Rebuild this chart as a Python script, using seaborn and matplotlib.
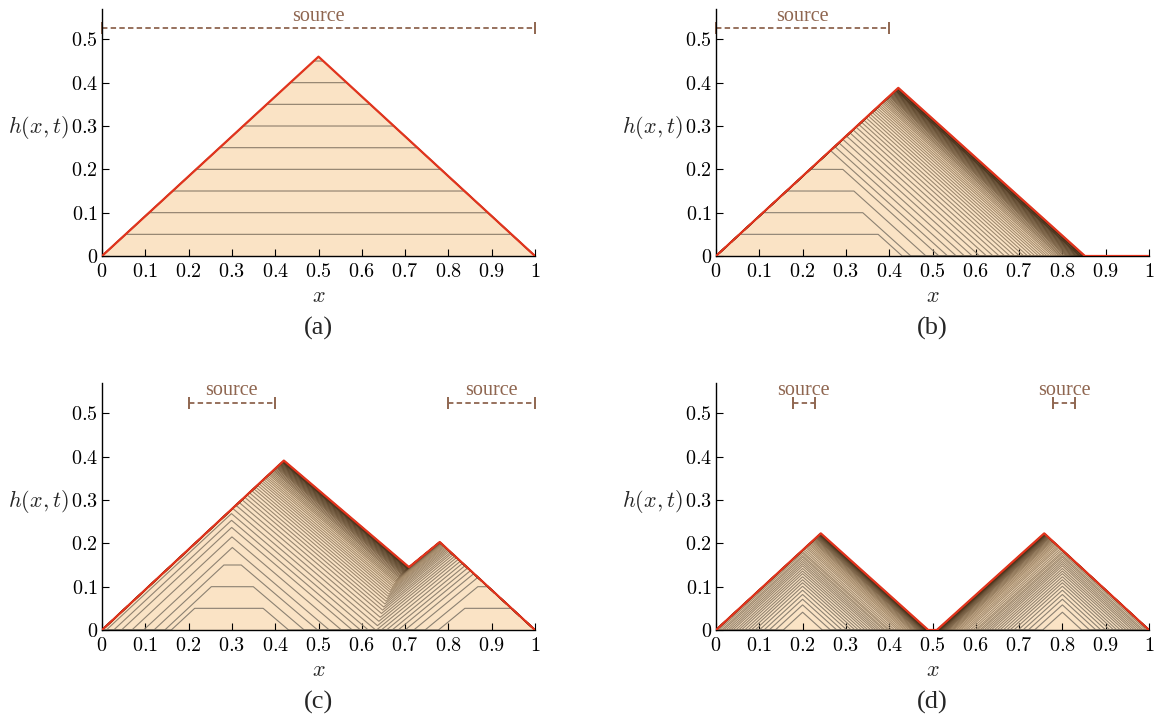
import numpy as np
import pandas as pd
import matplotlib
matplotlib.use('Agg')
import matplotlib.pyplot as plt
import seaborn as sns
from matplotlib.colors import LinearSegmentedColormap

# final (steady) profiles
final_x_a = [0.0, 0.5, 1.0]
final_h_a = [0.0, 0.46, 0.0]
final_x_b = [0.0, 0.421, 0.852, 1.0]
final_h_b = [0.0, 0.388, 0.0, 0.0]
final_x_c = [0.0, 0.42, 0.709, 0.78, 1.0]
final_h_c = [0.0, 0.391, 0.145, 0.203, 0.0]
final_x_d = [0.0, 0.242, 0.49, 0.51, 0.758, 1.0]
final_h_d = [0.0, 0.223, 0.0, 0.0, 0.223, 0.0]

# (a) plateau levels of the growing pile
levels_a = [0.05, 0.10, 0.15, 0.20, 0.25, 0.30, 0.35, 0.40, 0.45]

# (b) plateau caps and right feet of each profile (1.0 = no plateau)
caps_b = [0.05, 0.10, 0.15, 0.20] + [1.0] * 45
feet_b = [0.430, 0.450, 0.485, 0.515,
          0.535, 0.555, 0.574, 0.592, 0.609, 0.625, 0.640, 0.654, 0.667, 0.679,
          0.690, 0.701, 0.711, 0.720, 0.729, 0.737, 0.745, 0.752, 0.759, 0.765,
          0.771, 0.777, 0.782, 0.787, 0.792, 0.796, 0.800, 0.804, 0.808, 0.811,
          0.814, 0.817, 0.820, 0.823, 0.826, 0.829, 0.832, 0.835, 0.838, 0.840,
          0.842, 0.845, 0.847, 0.850, 0.852]

# (c) left heap: caps, left feet, right feet
caps_c1 = [0.05, 0.10, 0.15] + [1.0] * 47
left_c1 = [0.160, 0.145, 0.120, 0.096, 0.069, 0.045, 0.027, 0.010] + [0.0] * 42
right_c1 = [0.431, 0.467, 0.498, 0.525, 0.553, 0.578, 0.597, 0.615,
            0.632, 0.648, 0.663, 0.677, 0.690, 0.702, 0.713, 0.724, 0.734, 0.743,
            0.752, 0.760, 0.768, 0.775, 0.782, 0.789, 0.795, 0.801, 0.807, 0.812,
            0.817, 0.822, 0.827, 0.831, 0.835, 0.839, 0.843, 0.846, 0.849, 0.852,
            0.855, 0.858, 0.861, 0.864, 0.867, 0.870, 0.872, 0.874, 0.876, 0.878,
            0.879, 0.880]
# (c) right heap
caps_c2 = [0.05, 0.10] + [1.0] * 48
left_c2 = [0.777, 0.746, 0.720, 0.700, 0.684, 0.670, 0.657, 0.645, 0.634, 0.624,
           0.615, 0.607, 0.599, 0.592, 0.586, 0.580, 0.575, 0.570, 0.566, 0.562,
           0.558, 0.555, 0.552, 0.549, 0.547, 0.545, 0.543, 0.541, 0.540, 0.539,
           0.538, 0.537, 0.536, 0.536, 0.535, 0.535, 0.534, 0.534, 0.534, 0.533,
           0.533, 0.533, 0.533, 0.532, 0.532, 0.532, 0.532, 0.532, 0.532, 0.532]
right_c2 = [1.0] * 50

# (d) left heap
left_d1 = [0.1554, 0.1370, 0.1228, 0.1109, 0.1000, 0.0902, 0.0815, 0.0739, 0.0663, 0.0587,
           0.0522, 0.0457, 0.0391, 0.0337, 0.0283, 0.0228, 0.0174, 0.0130, 0.0076, 0.0033] + [0.0] * 33
right_d1 = [0.2456, 0.2644, 0.2789, 0.2911, 0.3022, 0.3122, 0.3211, 0.3289, 0.3367, 0.3444,
            0.3511, 0.3578, 0.3644, 0.3700, 0.3756, 0.3811, 0.3867, 0.3911, 0.3967, 0.4011,
            0.407, 0.413, 0.419, 0.424, 0.429, 0.434, 0.438, 0.442, 0.446, 0.450,
            0.453, 0.456, 0.459, 0.462, 0.465, 0.467, 0.469, 0.471, 0.473, 0.475,
            0.477, 0.478, 0.480, 0.481, 0.482, 0.483, 0.484, 0.485, 0.486, 0.487,
            0.488, 0.489, 0.490]
# (d) right heap
left_d2 = [0.7544, 0.7356, 0.7211, 0.7089, 0.6978, 0.6878, 0.6789, 0.6711, 0.6633, 0.6556,
           0.6489, 0.6422, 0.6356, 0.6300, 0.6244, 0.6189, 0.6133, 0.6089, 0.6033, 0.5989,
           0.593, 0.587, 0.581, 0.576, 0.571, 0.566, 0.562, 0.558, 0.554, 0.550,
           0.547, 0.544, 0.541, 0.538, 0.535, 0.533, 0.531, 0.529, 0.527, 0.525,
           0.523, 0.522, 0.520, 0.519, 0.518, 0.517, 0.516, 0.515, 0.514, 0.513,
           0.512, 0.511, 0.510]
right_d2 = [0.8446, 0.8630, 0.8772, 0.8891, 0.9000, 0.9098, 0.9185, 0.9261, 0.9337, 0.9413,
            0.9478, 0.9543, 0.9609, 0.9663, 0.9717, 0.9772, 0.9826, 0.9870, 0.9924, 0.9967] + [1.0] * 33

# source intervals
sources_a = [(0.0, 1.0)]
sources_b = [(0.0, 0.4)]
sources_c = [(0.2, 0.4), (0.8, 1.0)]
sources_d = [(0.177, 0.228), (0.779, 0.830)]

xticks = [0, 0.1, 0.2, 0.3, 0.4, 0.5, 0.6, 0.7, 0.8, 0.9, 1]
xtick_labels = ['0', '0.1', '0.2', '0.3', '0.4', '0.5', '0.6', '0.7', '0.8', '0.9', '1']
yticks = [0, 0.1, 0.2, 0.3, 0.4, 0.5]
ytick_labels = ['0', '0.1', '0.2', '0.3', '0.4', '0.5']

sns.set_style('ticks')
plt.rcParams['mathtext.fontset'] = 'cm'
plt.rcParams['font.family'] = ['Liberation Serif', 'DejaVu Serif']
SERIF = ['Liberation Serif', 'DejaVu Serif']

PEACH = '#fae3c5'
RED = '#e2341d'
SRC = '#8f6650'
cmap = LinearSegmentedColormap.from_list('sand', ['#8a8072', '#a88e6e', '#3a250f'])

xg = np.linspace(0, 1, 2001)


def heap(cap, a, b, sl, sr):
    return np.clip(np.minimum(np.minimum(sl * (xg - a), sr * (b - xg)), cap), 0, None)


def draw_panel(ax, fx, fh, profiles, sources, tag, single_color=None):
    final = np.interp(xg, fx, fh)
    ax.fill_between(xg, final, color=PEACH, lw=0, zorder=0)
    rows = []
    for k, prof in enumerate(profiles):
        rows.append(pd.DataFrame({'x': xg, 'h': np.minimum(prof, final), 't': 'p%02d' % k}))
    df = pd.concat(rows)
    n = len(profiles)
    if single_color:
        pal = {'p%02d' % k: single_color for k in range(n)}
    else:
        pal = {'p%02d' % k: cmap(k / max(n - 1, 1)) for k in range(n)}
    sns.lineplot(data=df, x='x', y='h', hue='t', palette=pal, legend=False,
                 estimator=None, sort=False, lw=0.8, ax=ax, zorder=2)
    sns.lineplot(x=fx, y=fh, color=RED, lw=1.6, ax=ax, zorder=5, estimator=None, sort=False)

    for (s0, s1) in sources:
        ax.plot([s0, s1], [0.525, 0.525], color=SRC, lw=1.3, ls=(0, (3.0, 1.8)), clip_on=False)
        ax.plot([s0, s1], [0.525, 0.525], color=SRC, lw=0, marker='|', ms=8, mew=1.4, clip_on=False)
        ax.text((s0 + s1) / 2, 0.553, 'source', color=SRC, fontsize=14.5, family=SERIF,
                ha='center', va='center')

    ax.set_xlim(0, 1)
    ax.set_ylim(0, 0.57)
    ax.set_xticks(xticks)
    ax.set_xticklabels(['$%s$' % t for t in xtick_labels])
    ax.set_yticks(yticks)
    ax.set_yticklabels(['$%s$' % t for t in ytick_labels])
    ax.tick_params(direction='in', length=5, width=0.8, labelsize=14.5, colors='black')
    ax.tick_params(axis='x', pad=5)
    ax.tick_params(axis='y', pad=3)
    sns.despine(ax=ax)
    for sp in ['left', 'bottom']:
        ax.spines[sp].set_linewidth(1.0)
        ax.spines[sp].set_color('black')
    ax.set_xlabel('$x$', fontsize=16)
    ax.xaxis.set_label_coords(0.5, -0.13)
    ax.set_ylabel('')
    ax.text(-0.148, 0.52, '$h(x,t)$', transform=ax.transAxes, fontsize=16, ha='center', va='center')
    ax.text(0.5, -0.295, tag, transform=ax.transAxes, fontsize=19, family=SERIF,
            ha='center', va='center')


fig = plt.figure(figsize=(11.54, 7.21), dpi=100)
W, H = 1154, 721
ax_a = fig.add_axes([102 / W, 1 - 256 / H, 433 / W, 247 / H])
ax_b = fig.add_axes([716 / W, 1 - 256 / H, 433 / W, 247 / H])
ax_c = fig.add_axes([102 / W, 1 - 630 / H, 433 / W, 247 / H])
ax_d = fig.add_axes([716 / W, 1 - 630 / H, 433 / W, 247 / H])

prof_a = [np.full_like(xg, L) for L in levels_a]
draw_panel(ax_a, final_x_a, final_h_a, prof_a, sources_a, '(a)', single_color='#8c7d6b')

prof_b = [heap(c, 0.0, b, 0.92, 0.9) for c, b in zip(caps_b, feet_b)]
draw_panel(ax_b, final_x_b, final_h_b, prof_b, sources_b, '(b)')

prof_c = [np.maximum(heap(caps_c1[k], left_c1[k], right_c1[k], 0.93, 0.85),
                     heap(caps_c2[k], left_c2[k], right_c2[k], 0.82, 0.92))
          for k in range(len(caps_c1))]
draw_panel(ax_c, final_x_c, final_h_c, prof_c, sources_c, '(c)')

prof_d = [np.maximum(heap(1.0, left_d1[k], right_d1[k], 0.92, 0.9),
                     heap(1.0, left_d2[k], right_d2[k], 0.9, 0.92))
          for k in range(len(left_d1))]
draw_panel(ax_d, final_x_d, final_h_d, prof_d, sources_d, '(d)')

fig.savefig('out.png', dpi=100)
